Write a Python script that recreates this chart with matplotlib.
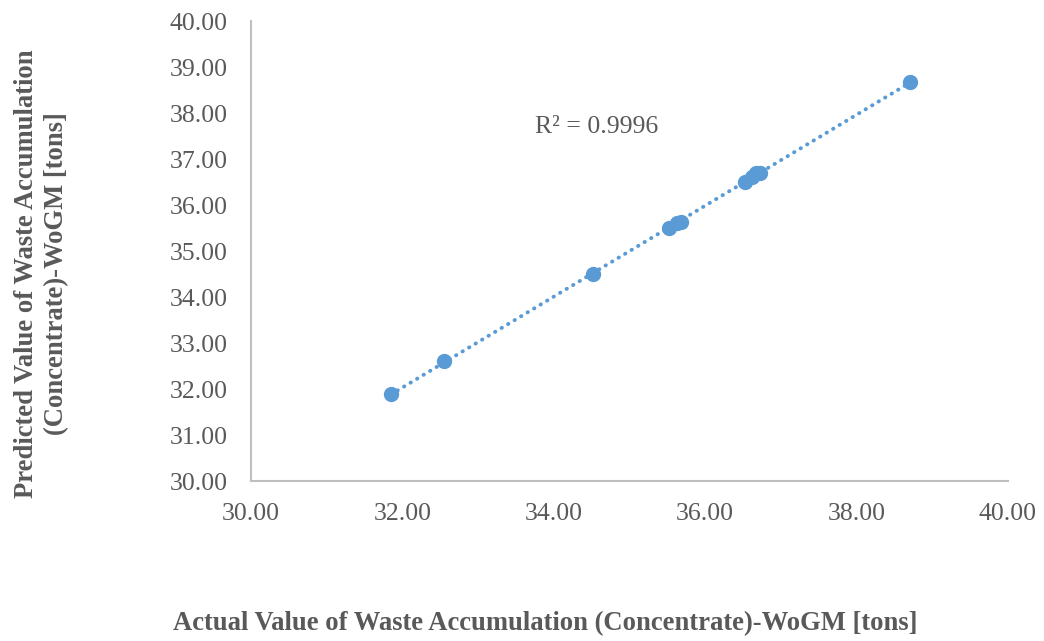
import numpy as np
import matplotlib.pyplot as plt

plt.rcParams['font.family'] = ['Liberation Serif', 'DejaVu Serif']

# actual vs predicted waste accumulation, tons
actual = [31.85, 32.55, 34.52, 35.52, 35.63, 35.68, 36.53, 36.62, 36.67, 36.73, 38.70]
predicted = [31.90, 32.60, 34.50, 35.50, 35.60, 35.62, 36.50, 36.60, 36.70, 36.70, 38.68]
r2_text = "R² = 0.9996"

x = np.array(actual)
y = np.array(predicted)
slope, intercept = np.polyfit(x, y, 1)
xfit = np.array([x.min(), x.max()])

fig = plt.figure(figsize=(10.44, 6.41), dpi=100)
ax = fig.add_axes([0.2404, 0.2496, 0.7251, 0.7176])

blue = '#5B9BD5'
ax.plot(xfit, slope * xfit + intercept, color=blue, lw=2.8,
        linestyle=(0, (0.1, 1.85)), dash_capstyle='round', zorder=2)
ax.plot(x, y, 'o', color=blue, ms=10, zorder=3)

ax.set_xlim(30, 40)
ax.set_ylim(30, 40)
ticks = np.arange(30, 41, 2)
ax.set_xticks(ticks)
ax.set_xticklabels([f"{t:.2f}" for t in ticks])
yt = np.arange(30, 41, 1)
ax.set_yticks(yt)
ax.set_yticklabels([f"{t:.2f}" for t in yt])

for side in ['top', 'right']:
    ax.spines[side].set_visible(False)
for side in ['left', 'bottom']:
    ax.spines[side].set_color('#BFBFBF')
    ax.spines[side].set_linewidth(1.5)
ax.tick_params(axis='both', length=0, labelsize=18.5, labelcolor='#595959')
ax.tick_params(axis='y', pad=17)
ax.tick_params(axis='x', pad=15.5)

ax.text(33.75, 37.7, r2_text, fontsize=18.5, color='#595959', va='center')

fig.text(0.522, 0.0265, "Actual Value of Waste Accumulation (Concentrate)-WoGM [tons]",
         ha='center', va='center', fontsize=19.2, fontweight='bold', color='#595959')
fig.text(0.04, 0.5725, "Predicted Value of Waste Accumulation\n(Concentrate)-WoGM [tons]",
         ha='center', va='center', rotation=90, fontsize=19.2, fontweight='bold',
         color='#595959', linespacing=1.25)

fig.savefig("out.png", dpi=100)
